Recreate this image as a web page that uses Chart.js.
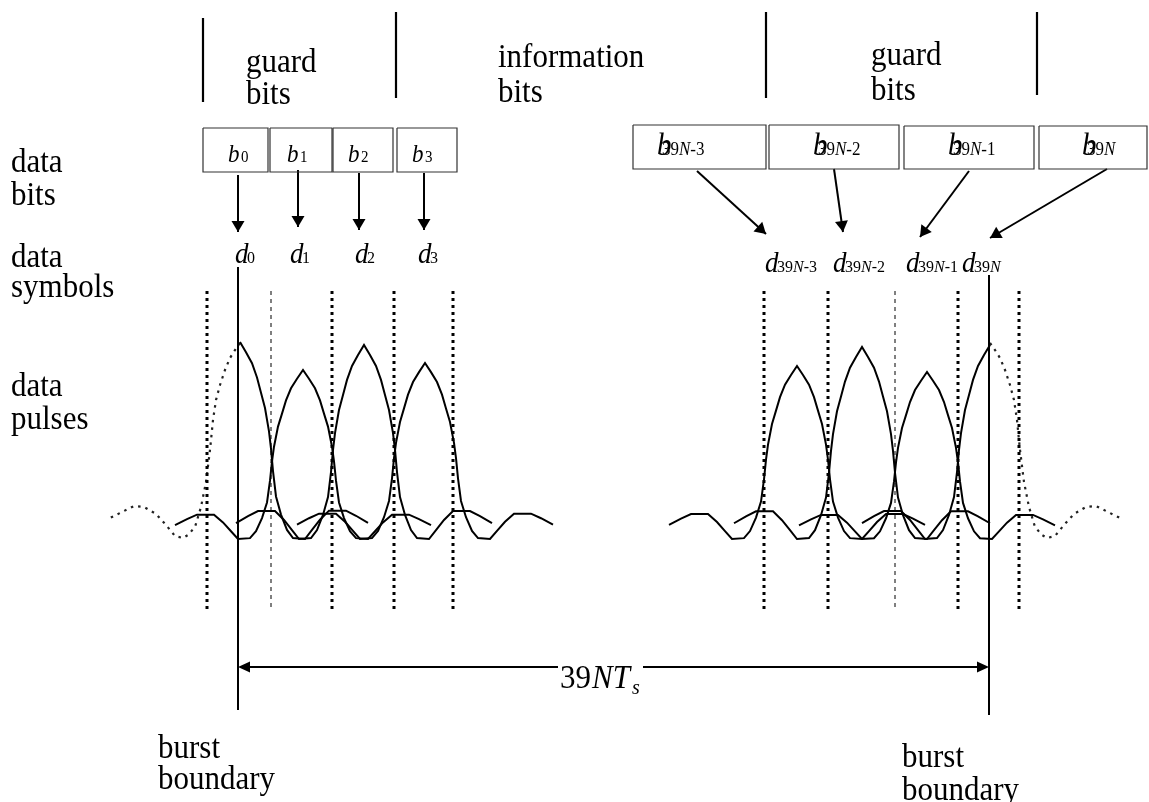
<!DOCTYPE html>
<html>
<head>
<meta charset="utf-8">
<script src="https://cdn.jsdelivr.net/npm/chart.js@4.4.0/dist/chart.umd.min.js"></script>
<style>
  html, body { margin: 0; padding: 0; background: #fff; }
  #wrap { width: 1149px; height: 802px; position: relative; }
</style>
</head>
<body>
<div id="wrap"><canvas id="chart"></canvas></div>
<script>
// everything is in diagram units: x 0..1149 left to right, y 0..802 top to bottom

const pulseOffsets = [0, 6, 12, 17, 21, 25, 29, 31, 33, 36, 41, 47, 53, 65, 72, 80, 89, 106, 116, 128];
const pulseLevels  = [1, 0.948, 0.892, 0.820, 0.742, 0.665, 0.546, 0.459, 0.345, 0.216, 0.124, 0.046, 0.005, 0, 0.046, 0.098, 0.144, 0.144, 0.118, 0.082];
const troughY = 539;

// dotted outer halves of the first and last pulse (outside the burst)
const tailOffsets = [0, 5, 10, 15, 20, 24, 27, 30, 34, 39, 45, 52, 57, 65, 74, 84, 96, 106, 118, 130];
const tailY       = [343, 350, 358, 370, 385, 400, 420, 450, 482, 507, 527, 535, 538, 536, 525, 514, 507, 506, 512, 518];

const pulseCentres = [240, 303, 364, 425, 797, 862, 927, 990];
const pulsePeaks   = [342, 370, 345, 363, 366, 347, 372, 345];
const pulseSolid   = ['right', 'both', 'both', 'both', 'both', 'both', 'both', 'left'];

// bit boxes
const boxLefts   = [203, 270, 333, 397, 633, 769, 904, 1039];
const boxRights  = [268, 332, 393, 457, 766, 899, 1034, 1147];
const boxTops    = [128, 128, 128, 128, 125, 125, 126, 126];
const boxBottoms = [172, 172, 172, 172, 169, 169, 169, 169];

const bitSubs   = ['0', '1', '2', '3', '39N-3', '39N-2', '39N-1', '39N'];
const bitLabelX = [228, 287, 348, 412, 657, 813, 948, 1082];

const symbolSubs = ['0', '1', '2', '3', '39N-3', '39N-2', '39N-1', '39N'];
const symbolX    = [235, 290, 355, 418, 765, 833, 906, 962];
const symbolY    = [263, 263, 263, 263, 272, 272, 272, 272];

// bit -> symbol arrows
const arrowFromX = [238, 298, 359, 424, 697, 834, 969, 1107];
const arrowFromY = [175, 170, 173, 173, 171, 169, 171, 169];
const arrowToX   = [238, 298, 359, 424, 766, 843, 920, 990];
const arrowToY   = [232, 227, 230, 230, 234, 232, 237, 238];

// symbol period markers
const markerX    = [207, 271, 332, 394, 453, 764, 828, 895, 958, 1019];
const markerThin = [false, true, false, false, false, false, false, true, false, false];
const markerTop = 291, markerBottom = 611;

// section dividers at the top
const dividerX      = [203, 396, 766, 1037];
const dividerTop    = [18, 12, 12, 12];
const dividerBottom = [102, 98, 98, 95];

// burst boundaries and the 39 N Ts span
const boundaryX      = [238, 989];
const boundaryTop    = [267, 275];
const boundaryBottom = [710, 715];
const spanY = 667;

// plain text labels: word, left x, baseline y
const labelWords = ['data', 'bits', 'data', 'symbols', 'data', 'pulses',
                    'guard', 'bits', 'information', 'bits', 'guard', 'bits',
                    'burst', 'boundary', 'burst', 'boundary'];
const labelX = [11, 11, 11, 11, 11, 11, 246, 246, 498, 498, 871, 871, 158, 158, 902, 902];
const labelY = [172, 205, 267, 297, 396, 429, 72, 104, 67, 102, 65, 100, 758, 789, 767, 800];

const FONT = '"Liberation Serif", "Times New Roman", serif';
const STRETCH = 1.07; // the original lettering is slightly taller than wide

function seg(x1, y1, x2, y2, width, dash, color) {
    return {
        data: [{x: x1, y: y1}, {x: x2, y: y2}],
        borderColor: color || '#000',
        borderWidth: width,
        borderDash: dash || [],
        pointRadius: 0,
        fill: false
    };
}

function pulsePoints(c, peak, half) {
    const amp = troughY - peak;
    const pts = [];
    if (half !== 'right') {
        for (let i = pulseOffsets.length - 1; i > 0; i--) {
            pts.push({x: c - pulseOffsets[i], y: troughY - pulseLevels[i] * amp});
        }
    }
    pts.push({x: c, y: peak});
    if (half !== 'left') {
        for (let i = 1; i < pulseOffsets.length; i++) {
            pts.push({x: c + pulseOffsets[i], y: troughY - pulseLevels[i] * amp});
        }
    }
    return pts;
}

const datasets = [];

dividerX.forEach((x, i) => datasets.push(seg(x, dividerTop[i], x, dividerBottom[i], 2.2)));

boxLefts.forEach((l, i) => {
    const r = boxRights[i], t = boxTops[i], b = boxBottoms[i];
    datasets.push({
        data: [{x: l, y: t}, {x: r, y: t}, {x: r, y: b}, {x: l, y: b}, {x: l, y: t}],
        borderColor: '#333', borderWidth: 1.2, pointRadius: 0, fill: false
    });
});

arrowFromX.forEach((x, i) => datasets.push(seg(x, arrowFromY[i], arrowToX[i], arrowToY[i], 2)));

markerX.forEach((x, i) => {
    if (markerThin[i]) datasets.push(seg(x, markerTop, x, markerBottom, 1, [4, 4]));
    else datasets.push(seg(x, markerTop, x, markerBottom, 3, [3, 4]));
});

boundaryX.forEach((x, i) => datasets.push(seg(x, boundaryTop[i], x, boundaryBottom[i], 2)));
datasets.push(seg(boundaryX[0] + 4, spanY, boundaryX[1] - 4, spanY, 2));

pulseCentres.forEach((c, i) => {
    datasets.push({
        data: pulsePoints(c, pulsePeaks[i], pulseSolid[i]),
        borderColor: '#000', borderWidth: 2, pointRadius: 0, fill: false
    });
    if (pulseSolid[i] !== 'both') {
        const dir = pulseSolid[i] === 'right' ? -1 : 1;
        datasets.push({
            data: tailOffsets.map((o, k) => ({x: c + dir * o, y: tailY[k]})),
            borderColor: '#222', borderWidth: 2.2, borderDash: [2.5, 5],
            pointRadius: 0, fill: false
        });
    }
});

// text drawn slightly stretched vertically, anchored on its baseline
function tallText(ctx, text, x, y) {
    ctx.save();
    ctx.translate(x, y);
    ctx.scale(1, STRETCH);
    ctx.fillText(text, 0, 0);
    ctx.restore();
    return ctx.measureText(text).width;
}

// draws "39N-3" style subscripts: N in italics, rest upright
function drawSub(ctx, text, x, y, size) {
    let cx = x;
    text.split(/(N)/).filter(s => s.length).forEach(part => {
        ctx.font = (part === 'N' ? 'italic ' : '') + size + 'px ' + FONT;
        cx += tallText(ctx, part, cx, y);
    });
}

function arrowHead(ctx, fx, fy, tx, ty, len, half) {
    const a = Math.atan2(ty - fy, tx - fx);
    ctx.beginPath();
    ctx.moveTo(tx, ty);
    ctx.lineTo(tx - len * Math.cos(a) + half * Math.sin(a), ty - len * Math.sin(a) - half * Math.cos(a));
    ctx.lineTo(tx - len * Math.cos(a) - half * Math.sin(a), ty - len * Math.sin(a) + half * Math.cos(a));
    ctx.closePath();
    ctx.fill();
}

const diagramText = {
    id: 'diagramText',
    afterDatasetsDraw(chart) {
        const {ctx, scales: {x, y}} = chart;
        const X = v => x.getPixelForValue(v);
        const Y = v => y.getPixelForValue(v);
        ctx.save();
        ctx.fillStyle = '#000';
        ctx.textBaseline = 'alphabetic';

        arrowFromX.forEach((fx, i) => {
            arrowHead(ctx, X(fx), Y(arrowFromY[i]), X(arrowToX[i]), Y(arrowToY[i]), 11, 6.5);
        });
        arrowHead(ctx, X(boundaryX[1]), Y(spanY), X(boundaryX[0]), Y(spanY), 12, 5.5);
        arrowHead(ctx, X(boundaryX[0]), Y(spanY), X(boundaryX[1]), Y(spanY), 12, 5.5);

        // row and section labels
        ctx.font = '31px ' + FONT;
        labelWords.forEach((t, i) => tallText(ctx, t, X(labelX[i]), Y(labelY[i])));

        // bit labels inside boxes
        bitSubs.forEach((s, i) => {
            const right = i >= 4;
            const size = right ? 29 : 23;
            const bx = X(bitLabelX[i]);
            const by = Y(right ? 155 : 162);
            ctx.font = 'italic ' + size + 'px ' + FONT;
            tallText(ctx, 'b', bx, by);
            drawSub(ctx, s, bx + (right ? 5 : 13), by, right ? 17 : 15);
        });

        // symbol labels
        symbolSubs.forEach((s, i) => {
            const dx = X(symbolX[i]), dy = Y(symbolY[i]);
            ctx.font = 'italic 27px ' + FONT;
            tallText(ctx, 'd', dx, dy);
            drawSub(ctx, s, dx + 12, dy, 16);
        });

        // span label over the arrow line
        ctx.fillStyle = '#fff';
        ctx.fillRect(X(558), Y(662), X(643) - X(558), Y(697) - Y(662));
        ctx.fillStyle = '#000';
        ctx.font = '31px ' + FONT;
        tallText(ctx, '39', X(560), Y(688));
        ctx.font = 'italic 31px ' + FONT;
        tallText(ctx, 'NT', X(592), Y(688));
        ctx.font = 'italic 20px ' + FONT;
        tallText(ctx, 's', X(632), Y(694));

        ctx.restore();
    }
};

new Chart(document.getElementById('chart').getContext('2d'), {
    type: 'line',
    data: { datasets },
    options: {
        responsive: true,
        maintainAspectRatio: false,
        animation: false,
        layout: { padding: 0 },
        plugins: { legend: { display: false }, tooltip: { enabled: false } },
        elements: { line: { tension: 0 } },
        scales: {
            x: { type: 'linear', min: 0, max: 1149, display: false },
            y: { type: 'linear', min: 0, max: 802, reverse: true, display: false }
        }
    },
    plugins: [diagramText]
});
</script>
</body>
</html>
